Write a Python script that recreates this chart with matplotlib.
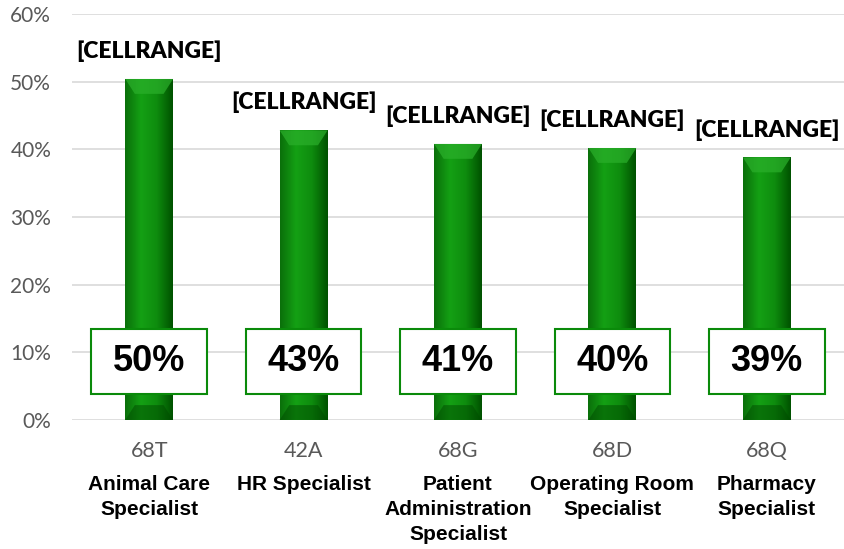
import matplotlib.pyplot as plt
import numpy as np
from matplotlib.colors import LinearSegmentedColormap
from matplotlib.patches import Polygon, Rectangle

codes = ["68T", "42A", "68G", "68D", "68Q"]
names = ["Animal Care\nSpecialist", "HR Specialist",
         "Patient\nAdministration\nSpecialist",
         "Operating Room\nSpecialist", "Pharmacy\nSpecialist"]
values = [0.504, 0.428, 0.408, 0.402, 0.388]
box_labels = ["50%", "43%", "41%", "40%", "39%"]
top_labels = ["[CELLRANGE]"] * 5


def main():
    fig = plt.figure(figsize=(8.44, 5.49), dpi=100)
    ax = fig.add_axes([0.0853, 0.235, 0.9147, 0.7395])
    x = np.arange(len(values))
    bars = ax.bar(x, values, width=0.31, color="#0b8a0b", zorder=2)

    ax.set_xlim(-0.5, 4.5)
    ax.set_ylim(0, 0.6)
    ax.set_yticks(np.arange(0, 0.61, 0.1))
    ax.set_yticklabels([f"{int(round(t * 100))}%" for t in np.arange(0, 0.61, 0.1)],
                       fontsize=15, color="#595959", family="Lato")
    ax.yaxis.grid(True, color="#d9d9d9", linewidth=1.2, zorder=0)
    ax.set_axisbelow(True)
    for s in ax.spines.values():
        s.set_visible(False)
    ax.tick_params(length=0, pad=15)
    ax.set_xticks(x)
    ax.set_xticklabels([])

    # gradient fill for the bars
    cmap = LinearSegmentedColormap.from_list(
        "g", ["#0a700a", "#14a014", "#0e8c0e", "#005200"])
    grad = np.linspace(0, 1, 100).reshape(1, -1)
    for b in bars:
        x0, y0 = b.get_x(), b.get_y()
        w, h = b.get_width(), b.get_height()
        im = ax.imshow(grad, cmap=cmap, aspect="auto", zorder=2,
                       extent=[x0, x0 + w, y0, y0 + h])
        im.set_clip_path(b)
        d = w * 0.2
        bh = 0.022
        ax.add_patch(Polygon([(x0, y0 + h), (x0 + w, y0 + h),
                              (x0 + w - d, y0 + h - bh), (x0 + d, y0 + h - bh)],
                             closed=True, facecolor="#2bb02b", alpha=0.7,
                             edgecolor="none", zorder=3))
        ax.add_patch(Polygon([(x0, y0), (x0 + w, y0),
                              (x0 + w - d, y0 + bh), (x0 + d, y0 + bh)],
                             closed=True, facecolor="#004a00", alpha=0.5,
                             edgecolor="none", zorder=3))

    for i, v in enumerate(values):
        ax.text(x[i], v + 0.041, top_labels[i], ha="center", va="center",
                fontsize=16.5, fontweight="heavy", family="Lato", color="black",
                zorder=5)
        ax.add_patch(Rectangle((x[i] - 0.374, 0.0384), 0.748, 0.096,
                               facecolor="white", edgecolor="#0a8a0a",
                               linewidth=1.5, zorder=4))
        ax.text(x[i], 0.0864, box_labels[i], ha="center", va="center",
                fontsize=26, fontweight="bold", family="Liberation Sans",
                color="black", zorder=5)
        ax.text(x[i], -0.0458, codes[i], ha="center", va="center",
                fontsize=15.5, family="Lato", color="#595959", clip_on=False)
        ax.text(x[i], -0.081, names[i], ha="center", va="top",
                fontsize=15, fontweight="bold", family="Liberation Sans",
                color="black", linespacing=1.4, clip_on=False)

    plt.savefig("out.png", dpi=100)


if __name__ == '__main__':
    main()
